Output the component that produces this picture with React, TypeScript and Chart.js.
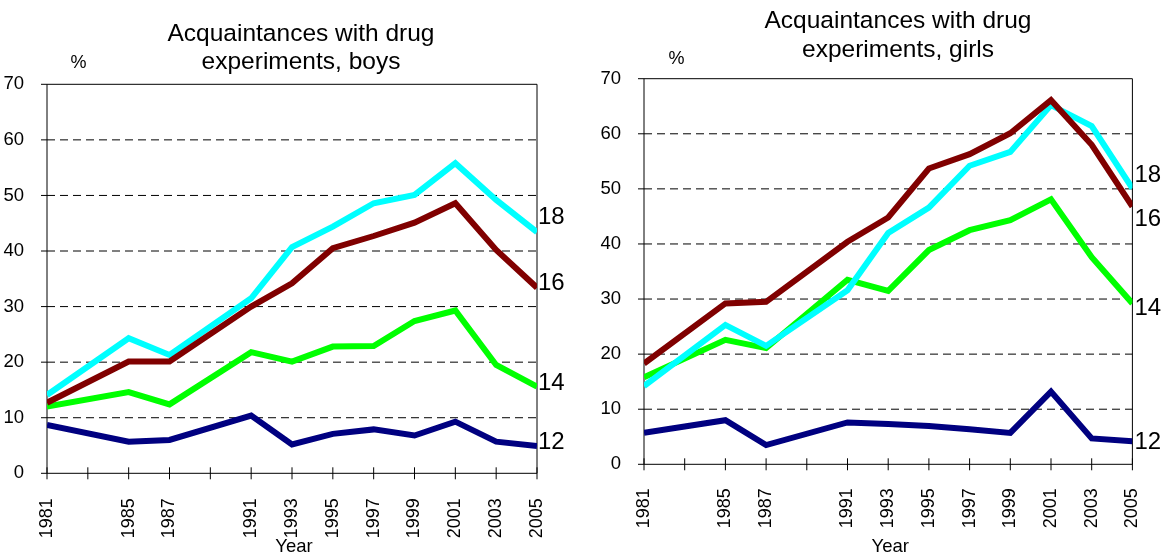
import React, { useEffect, useRef } from 'react';
import { Chart, registerables } from 'chart.js';

Chart.register(...registerables);

// Survey years and the labelled ticks on the time axis (1983 and 1989 carry no label)
const years = [1981, 1985, 1987, 1991, 1993, 1995, 1997, 1999, 2001, 2003, 2005];
const xTickLabels = ['1981', '1985', '1987', '1991', '1993', '1995', '1997', '1999', '2001', '2003', '2005'];
const yTickValues = [0, 10, 20, 30, 40, 50, 60, 70];

// Boys, by age group (%)
const boys12 = [8.7, 5.7, 6.0, 10.4, 5.2, 7.1, 7.9, 6.8, 9.3, 5.7, 4.9];
const boys14 = [12.0, 14.6, 12.4, 21.8, 20.1, 22.8, 22.9, 27.4, 29.3, 19.5, 15.6];
const boys16 = [12.7, 20.1, 20.1, 30.0, 34.2, 40.5, 42.7, 45.1, 48.6, 40.2, 33.4];
const boys18 = [14.1, 24.3, 21.3, 31.5, 40.7, 44.4, 48.6, 50.1, 55.8, 49.2, 43.4];

// Girls, by age group (%)
const girls12 = [5.7, 8.0, 3.5, 7.6, 7.3, 6.95, 6.35, 5.7, 13.2, 4.7, 4.2];
const girls14 = [15.8, 22.6, 21.1, 33.5, 31.5, 38.9, 42.5, 44.3, 48.1, 37.6, 29.2];
const girls16 = [18.3, 29.2, 29.5, 40.4, 44.8, 53.7, 56.3, 60.1, 66.1, 58.0, 46.8];
const girls18 = [14.2, 25.3, 21.5, 31.6, 42.0, 46.6, 54.2, 56.7, 65.2, 61.4, 50.1];

const ageLabels = ['16', '18', '14', '12'];
const ageColors = ['#800000', '#00FFFF', '#00FF00', '#000080'];

const FONT = '"Liberation Sans", Arial, Helvetica, sans-serif';
const W = 585;
const H = 556;

type PanelSpec = {
  title: string[];
  values: number[][]; // in the order of ageLabels
  endLabelDy: number[]; // vertical nudge of each end label, px
  area: { left: number; right: number; top: number; bottom: number };
  titleBaseline: number;
  percentX: number;
  percentBaseline: number;
  xLabelGap: number;
  endLabelGap: number;
};

const boysPanel: PanelSpec = {
  title: ['Acquaintances with drug', 'experiments, boys'],
  values: [boys16, boys18, boys14, boys12],
  endLabelDy: [2, -8, 3, 3],
  area: { left: 47, right: 537, top: 84.3, bottom: 473.3 },
  titleBaseline: 40.7,
  percentX: 78.5,
  percentBaseline: 68,
  xLabelGap: 17,
  endLabelGap: 1,
};

const girlsPanel: PanelSpec = {
  title: ['Acquaintances with drug', 'experiments, girls'],
  values: [girls16, girls18, girls14, girls12],
  endLabelDy: [20, -6, 12, 8],
  area: { left: 59, right: 550, top: 78.7, bottom: 464.3 },
  titleBaseline: 28.3,
  percentX: 91.5,
  percentBaseline: 64,
  xLabelGap: 16,
  endLabelGap: 2,
};

function makeDecor(spec: PanelSpec) {
  return {
    id: 'panelDecor',
    beforeDatasetsDraw(chart: any) {
      const { ctx, chartArea: a, scales } = chart;
      const x = scales.x;
      const y = scales.y;
      ctx.save();
      ctx.strokeStyle = '#000';
      ctx.lineWidth = 1;
      // dashed horizontal grid
      ctx.setLineDash([8, 5]);
      for (const v of yTickValues) {
        if (v <= 0 || v >= 70) continue;
        const py = y.getPixelForValue(v);
        ctx.beginPath();
        ctx.moveTo(a.left, py);
        ctx.lineTo(a.right, py);
        ctx.stroke();
      }
      ctx.setLineDash([]);
      // plot frame
      ctx.beginPath();
      ctx.rect(a.left, a.top, a.right - a.left, a.bottom - a.top);
      ctx.stroke();
      // y tick marks
      for (const v of yTickValues) {
        const py = y.getPixelForValue(v);
        ctx.beginPath();
        ctx.moveTo(a.left - 6, py);
        ctx.lineTo(a.left, py);
        ctx.stroke();
      }
      // x tick marks crossing the axis
      for (const t of x.ticks) {
        const px = x.getPixelForValue(t.value);
        ctx.beginPath();
        ctx.moveTo(px, a.bottom - 6);
        ctx.lineTo(px, a.bottom + 6);
        ctx.stroke();
      }
      ctx.restore();
    },
    afterDraw(chart: any) {
      const { ctx, chartArea: a } = chart;
      ctx.save();
      ctx.fillStyle = '#000';
      ctx.textAlign = 'center';
      ctx.textBaseline = 'alphabetic';
      // title
      ctx.font = `24.5px ${FONT}`;
      const titleX = a.left + 254;
      spec.title.forEach((line, i) => {
        ctx.fillText(line, titleX, spec.titleBaseline + i * 28.7);
      });
      // unit
      ctx.font = `18px ${FONT}`;
      ctx.fillText('%', spec.percentX, spec.percentBaseline);
      // axis title
      ctx.font = `18.5px ${FONT}`;
      ctx.fillText('Year', (a.left + a.right) / 2 + 2, 552);
      // age group labels at line ends
      ctx.textAlign = 'left';
      ctx.font = `24px ${FONT}`;
      chart.data.datasets.forEach((ds: any, i: number) => {
        const meta = chart.getDatasetMeta(i);
        const last = meta.data[meta.data.length - 1];
        ctx.fillText(ds.label, a.right + spec.endLabelGap, last.y + spec.endLabelDy[i]);
      });
      ctx.restore();
    },
  };
}

function Panel({ spec }: { spec: PanelSpec }) {
  const ref = useRef<HTMLCanvasElement>(null);

  useEffect(() => {
    const canvas = ref.current;
    if (!canvas) return;
    const datasets = ageLabels.map((label, i) => ({
      label,
      data: years.map((yr, k) => ({ x: yr, y: spec.values[i][k] })),
      borderColor: ageColors[i],
      backgroundColor: ageColors[i],
      borderWidth: 6,
      pointRadius: 0,
      tension: 0,
      fill: false,
    }));
    const chart = new Chart(canvas, {
      type: 'line',
      data: { datasets },
      options: {
        responsive: false,
        animation: false,
        devicePixelRatio: 1,
        events: [],
        layout: {
          autoPadding: false,
          padding: { left: 0, top: spec.area.top, right: W - spec.area.right, bottom: 0 },
        },
        plugins: {
          legend: { display: false },
          tooltip: { enabled: false },
          title: { display: false },
        },
        scales: {
          x: {
            type: 'linear',
            min: 1981,
            max: 2005,
            grid: { display: false },
            border: { display: false },
            ticks: {
              stepSize: 2,
              autoSkip: false,
              maxRotation: 90,
              minRotation: 90,
              padding: spec.xLabelGap,
              color: '#000',
              font: { family: FONT, size: 18 },
              callback: (value: any) => {
                const s = String(value);
                return xTickLabels.includes(s) ? s : '';
              },
            },
            afterFit: (scale: any) => {
              scale.height = H - spec.area.bottom;
            },
          },
          y: {
            type: 'linear',
            min: 0,
            max: 70,
            grid: { display: false },
            border: { display: false },
            ticks: {
              stepSize: 10,
              padding: 15,
              color: '#000',
              font: { family: FONT, size: 18.5 },
            },
            afterFit: (scale: any) => {
              scale.width = spec.area.left;
            },
          },
        },
      },
      plugins: [makeDecor(spec)],
    } as any);
    return () => chart.destroy();
  }, [spec]);

  return <canvas ref={ref} width={W} height={H} style={{ display: 'block', width: W, height: H }} />;
}

export default function App() {
  return (
    <div
      style={{
        position: 'fixed',
        left: 0,
        top: 0,
        width: 1170,
        height: 556,
        background: '#fff',
        display: 'flex',
      }}
    >
      <Panel spec={boysPanel} />
      <Panel spec={girlsPanel} />
    </div>
  );
}
